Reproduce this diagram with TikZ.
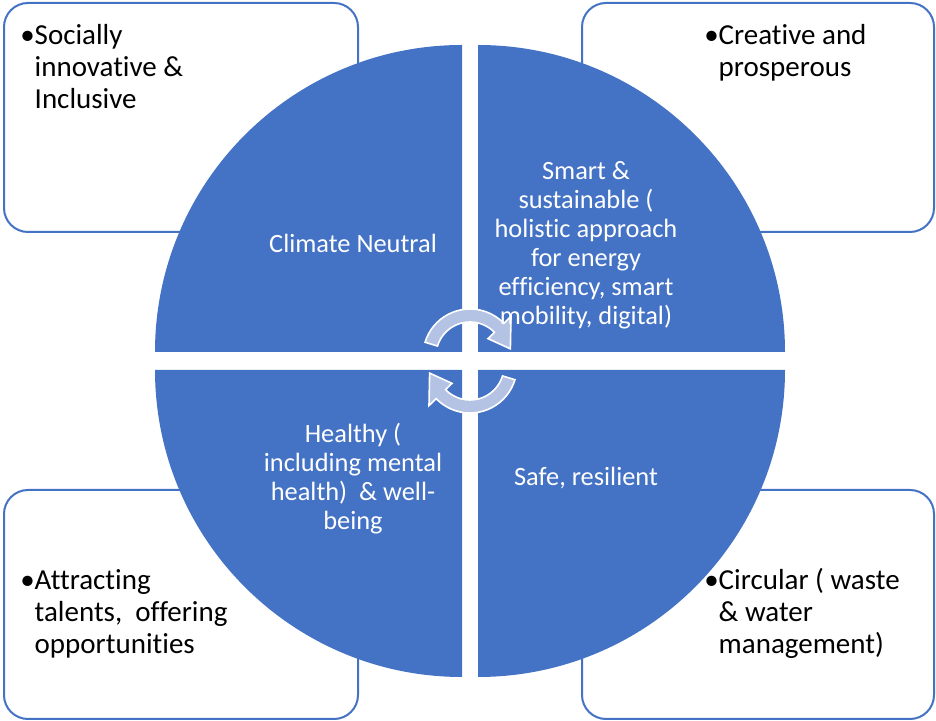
\documentclass[tikz,border=0pt]{standalone}
\usepackage{fontspec}
\setmainfont{Carlito}[Ligatures={NoCommon}]
\definecolor{accent}{HTML}{4472C4}
\definecolor{pale}{RGB}{180,194,228}
\newcommand\bul[1]{\textbullet\begin{tabular}[t]{@{}l@{}}#1\end{tabular}}

\begin{document}
\begin{tikzpicture}[x=0.75pt, y=0.75pt,
  card/.style = {draw=accent, line width=1.5pt, rounded corners=18pt, fill=white},
  quad/.style = {fill=accent},
  tag/.style = {text=white, align=center, inner sep=0pt,
    font=\fontsize{19.8}{21.75}\selectfont},
  blurb/.style = {anchor=base west, inner sep=0pt,
    font=\fontsize{21.75}{24}\selectfont},
  cyc/.style = {fill=pale, draw=white, line width=1.2pt}]
  \useasboundingbox (0,0) rectangle (936,721);
  % corner boxes
  \draw[card] (4,489) rectangle (358,718);
  \draw[card] (582,489) rectangle (934,718);
  \draw[card] (4,2) rectangle (358,231);
  \draw[card] (582,2) rectangle (934,231);
  % four quarters
  \foreach \cx/\cy/\a in {462/369/90, 478/369/0, 462/351/180, 478/351/270}
    \fill[quad] (\cx,\cy) -- ++(\a:307) arc[start angle=\a, end angle=\a+90, radius=307] -- cycle;
  % cycle arrows
  \foreach \cy/\rot in {365/0, 355/180}
    \filldraw[cyc, shift={(470,\cy)}, rotate=\rot] (163:47)
      arc[start angle=163, end angle=44, radius=47] -- (44:57) -- (10:41)
      -- (44:25) -- (44:34) arc[start angle=44, end angle=163, radius=34] -- cycle;
  % quarter labels
  \node[tag] (cn) at (353,478) {Climate Neutral};
  \node[tag] (ss) at (586,476) {Smart \&\\ sustainable (\\ holistic approach\\
    for energy\\ efficiency, smart\\ mobility, digital)};
  \node[tag] (hw) at (353,242) {Healthy (\\ including mental\\ health)\ \ \& well-\\ being};
  \node[tag] (sr) at (586,243) {Safe, resilient};
  % box texts
  \node[blurb] (si) at (20,676) {\bul{Socially\\ innovative \&\\ Inclusive}};
  \node[blurb] (cp) at (704,676) {\bul{Creative and\\ prosperous}};
  \node[blurb] (at) at (20,131) {\bul{Attracting\\ talents,\ \ offering\\ opportunities}};
  \node[blurb] (cw) at (704,131) {\bul{Circular ( waste\\ \& water\\ management)}};
\end{tikzpicture}
\end{document}
